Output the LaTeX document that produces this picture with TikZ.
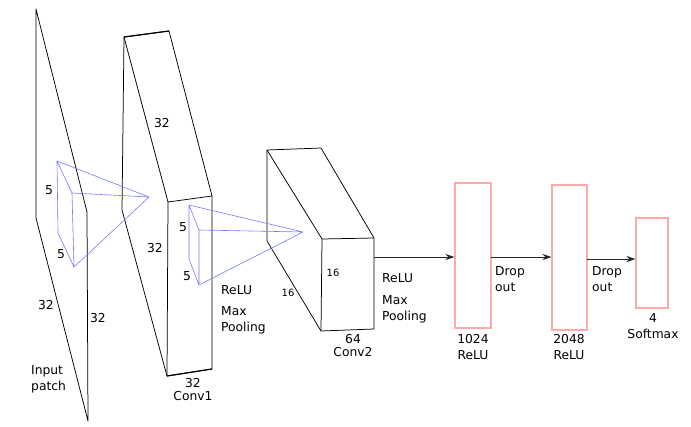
\documentclass[tikz,border=0pt]{standalone}
\usepackage{fontspec}
\setmainfont{DejaVu Sans}
\usetikzlibrary{arrows.meta}
\definecolor{kblue}{RGB}{120,120,255}
\definecolor{fcpink}{RGB}{255,170,170}
\begin{document}
\begin{tikzpicture}[x=1pt,y=-1pt,
  lbl/.style={font=\fontsize{12.3}{16}\selectfont, inner sep=0pt, align=left},
  lblc/.style={font=\fontsize{12.3}{13}\selectfont, inner sep=0pt, align=center},
  small/.style={font=\fontsize{10}{12}\selectfont, inner sep=0pt},
  edge/.style={black, line width=0.75pt, line join=round},
  kern/.style={kblue, line width=0.6pt, line join=round},
  fc/.style={draw=fcpink, line width=1.05pt, inner sep=0pt},
  arr/.style={-{Stealth[length=9pt,width=6pt]}, line width=0.75pt, black!85}
]
\useasboundingbox (0,0) rectangle (691,426);

% Input patch
\coordinate (i1) at (36,9);
\coordinate (i2) at (87,212);
\coordinate (i3) at (88,421);
\coordinate (i4) at (36,218);
\draw[edge] (i1) -- (i2) -- (i3) -- (i4) -- cycle;

% Conv1 box
\coordinate (a1) at (124,37);
\coordinate (a2) at (169,31);
\coordinate (a3) at (212,196);
\coordinate (a4) at (212,369);
\coordinate (a5) at (167,376);
\coordinate (a6) at (122,210);
\coordinate (a7) at (168,202);
\draw[edge] (a1) -- (a2) -- (a3) -- (a4) -- (a5) -- (a6) -- cycle;
\draw[edge] (a1) -- (a7) -- (a3);
\draw[edge] (a7) -- (a5);
\draw[black, line width=1.2pt] (a1) -- (a2);
\draw[black, line width=1.2pt] (a5) -- (a4);

% Conv2 box
\coordinate (b1) at (267,150);
\coordinate (b2) at (321,148);
\coordinate (b3) at (374,238);
\coordinate (b4) at (374,329);
\coordinate (b5) at (321,331);
\coordinate (b6) at (267,241);
\coordinate (b7) at (322,239);
\draw[edge] (b1) -- (b2) -- (b3) -- (b4) -- (b5) -- (b6) -- cycle;
\draw[edge] (b1) -- (b7) -- (b3);
\draw[edge] (b7) -- (b5);

% Kernel pyramid 1
\coordinate (p1) at (57,161);
\coordinate (p2) at (72,193);
\coordinate (p3) at (74,267);
\coordinate (p4) at (58,233);
\coordinate (q) at (149,197);
\draw[kern] (p1) -- (p2) -- (p3) -- (p4) -- cycle;
\draw[kern] (p1) -- (q) (p2) -- (q) (p3) -- (q);

% Kernel pyramid 2
\coordinate (r1) at (189,205);
\coordinate (r2) at (199,230);
\coordinate (r3) at (199,285);
\coordinate (r4) at (189,259);
\coordinate (s) at (303,232);
\draw[kern] (r1) -- (r2) -- (r3) -- (r4) -- cycle;
\draw[kern] (r1) -- (s) (r2) -- (s) (r3) -- (s);

% Fully connected layers
\node[fc, minimum width=36pt, minimum height=145pt] (f1) at (473,255.5) {};
\node[fc, minimum width=35pt, minimum height=145pt] (f2) at (569.5,257.5) {};
\node[fc, minimum width=32pt, minimum height=90pt] (f3) at (652,263) {};

% Arrows
\coordinate (c2out) at (374,257);
\draw[arr] (c2out) -- (c2out -| f1.west);
\coordinate (f1out) at (491,257);
\draw[arr] (f1out) -- (f1out -| f2.west);
\coordinate (f2out) at (587,259);
\draw[arr] (f2out) -- (f2out -| f3.west);

% Labels: input
\node[lbl] (t5a) at (49,190) {5};
\node[lbl] (t5b) at (61,254) {5};
\node[lbl] (t32a) at (46,305) {32};
\node[lbl] (t32b) at (98,318) {32};
\node[lbl, anchor=west] (tin) at (31,379) {Input\\patch};

% Labels: conv1
\node[lbl] (t32c) at (162,123) {32};
\node[lbl] (t32d) at (155,248) {32};
\node[lbl] (t5c) at (183,227) {5};
\node[lbl] (t5d) at (187,276) {5};
\node[lblc] (tc1) at (193,390) {32\\Conv1};
\node[lbl, anchor=west] (trelu1) at (221,290) {ReLU};
\node[lbl, anchor=west] (tmp1) at (221,320) {Max\\Pooling};

% Labels: conv2
\node[small] (t16a) at (333,273) {16};
\node[small] (t16b) at (288,293) {16};
\node[lblc] (tc2) at (353,345.5) {64\\Conv2};
\node[lbl, anchor=west] (trelu2) at (382,278) {ReLU};
\node[lbl, anchor=west] (tmp2) at (382,309) {Max\\Pooling};

% Labels: FC
\node[lbl, anchor=west] (td1) at (495,279.5) {Drop\\out};
\node[lbl, anchor=west] (td2) at (592,279.5) {Drop\\out};
\node[lbl, align=center] (tf1) at (473,347.5) {1024\\ReLU};
\node[lbl, align=center] (tf2) at (569,347.5) {2048\\ReLU};
\node[lbl, align=center] (tf3) at (653,326) {4\\Softmax};
\end{tikzpicture}
\end{document}
